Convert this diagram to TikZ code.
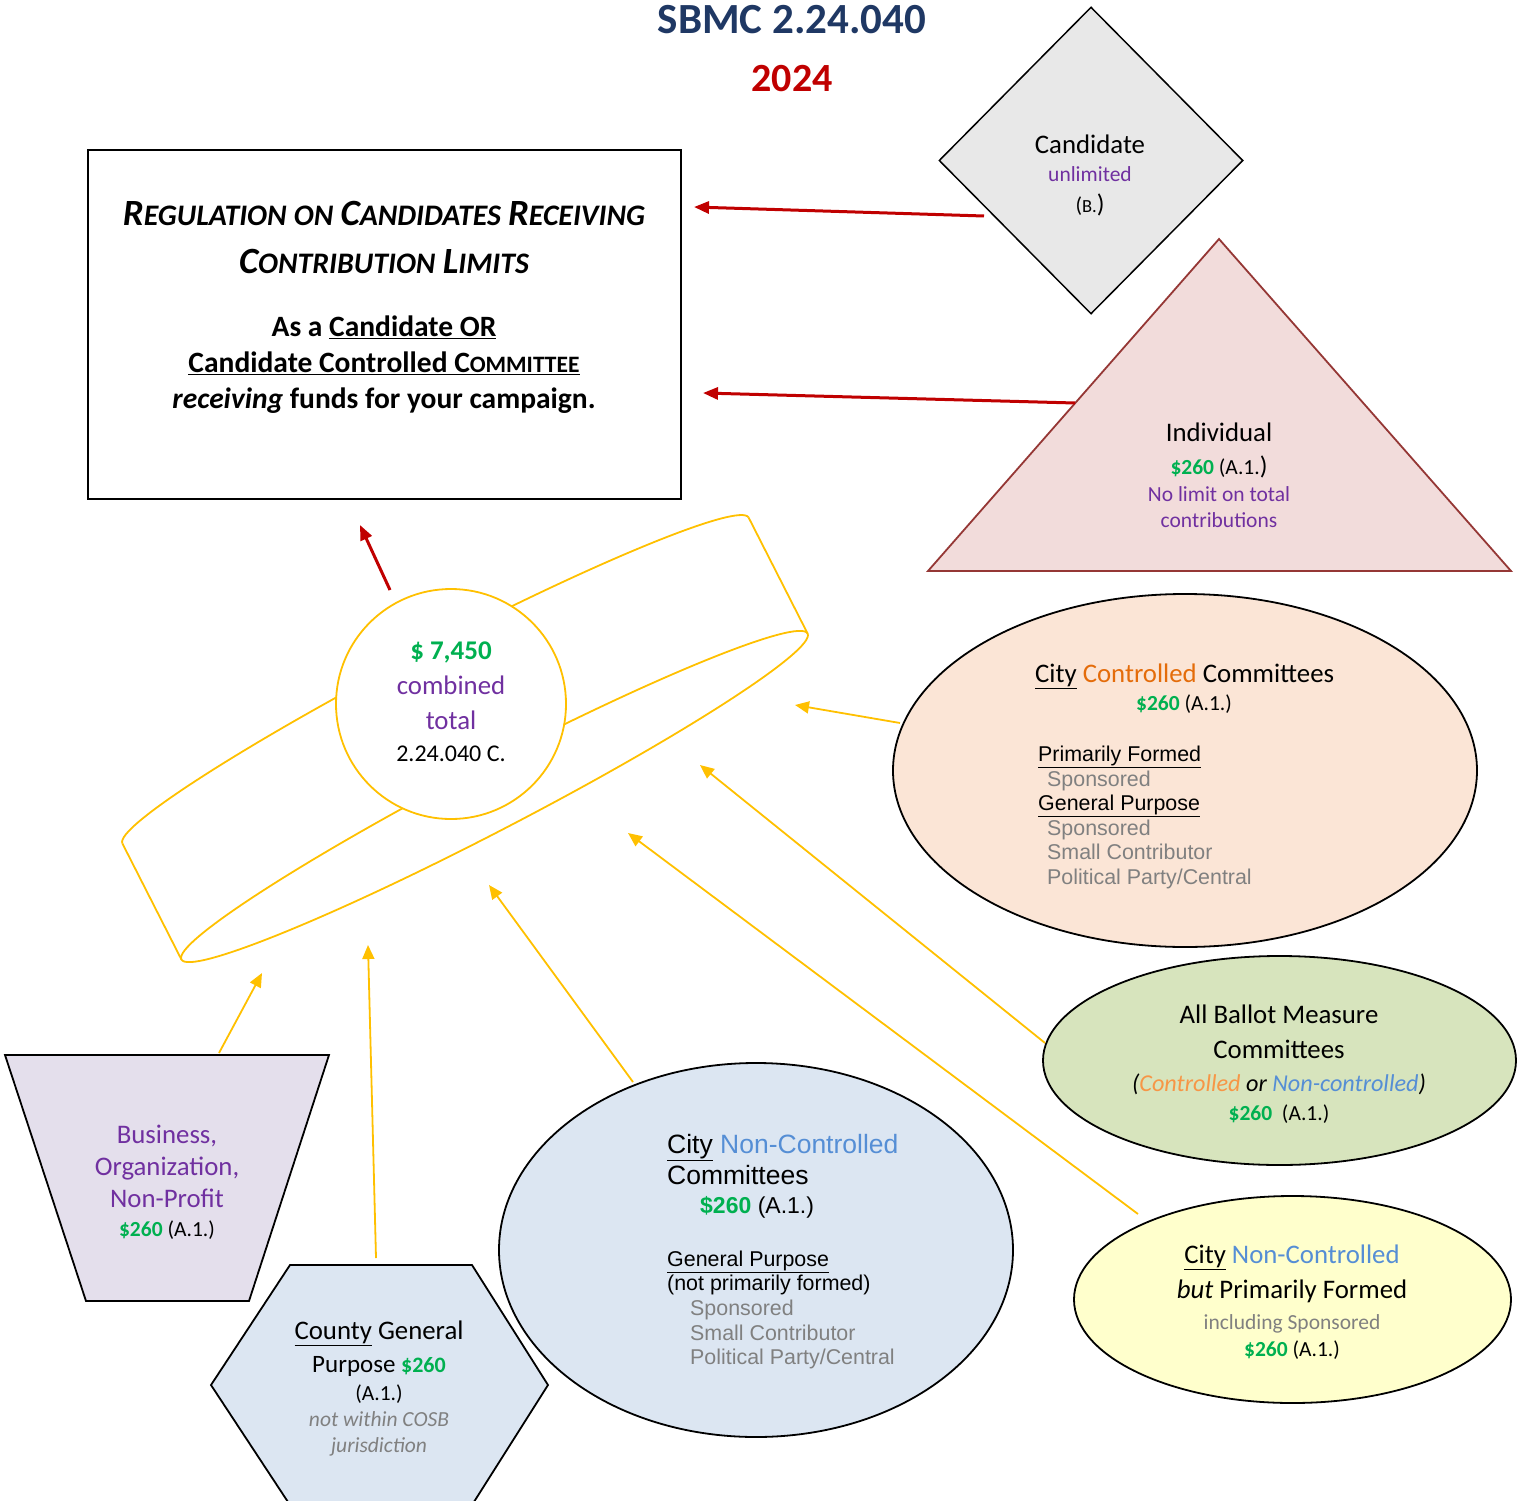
\documentclass[tikz,border=0pt]{standalone}
\usepackage{fontspec}
\setmainfont{Carlito}
\newfontfamily\ari{Liberation Sans}
\usetikzlibrary{arrows.meta,shapes.geometric}
\definecolor{navy}{HTML}{1F3864}
\definecolor{dred}{HTML}{C00000}
\definecolor{mgreen}{HTML}{00B050}
\definecolor{mpurple}{HTML}{7030A0}
\definecolor{gold}{HTML}{FFC000}
\definecolor{orng}{HTML}{E46C0A}
\definecolor{lorng}{HTML}{F79646}
\definecolor{nblue}{HTML}{558ED5}
\definecolor{gtxt}{HTML}{808080}
\definecolor{diafill}{HTML}{E8E8E8}
\definecolor{trifill}{HTML}{F2DCDB}
\definecolor{triline}{HTML}{953735}
\definecolor{ccfill}{HTML}{FBE5D6}
\definecolor{abfill}{HTML}{D7E4BD}
\definecolor{ylfill}{HTML}{FFFFCC}
\definecolor{blfill}{HTML}{DCE6F2}
\definecolor{trapfill}{HTML}{E4DFEC}
\newcommand\fs[1]{\fontsize{#1}{#1}\selectfont}
\newcommand\hsc[2]{{\fs{37}#1}{\fs{29.8}#2}}
\newcommand\grn[1]{\textcolor{mgreen}{\textbf{#1}}}
\begin{document}
\begin{tikzpicture}[x=1pt,y=-1pt,
  txt/.style={inner sep=0pt, anchor=mid, yshift=-6pt},
  ltxt/.style={inner sep=0pt, anchor=mid west, yshift=-6pt},
  shapeline/.style={draw=black, line width=1.8pt},
  goldline/.style={draw=gold, line width=1.8pt},
  goldarrow/.style={draw=gold, line width=1.8pt, -{Triangle[length=14pt,width=12pt]}},
  redarrow/.style={draw=dred, line width=3pt, -{Triangle[length=15pt,width=12pt]}},
  body/.style={font=\fs{26.8}},
  small/.style={font=\fs{21.5}},
  arial/.style={font=\ari\fs{21.4}}]
\useasboundingbox (0,0) rectangle (1526,1501);

% title
\node[txt, font=\bfseries\fs{43}, text=navy] (title) at (792,25) {SBMC 2.24.040};
\node[txt, font=\bfseries\fs{40}, text=dred] (year) at (792,83) {2024};

% regulation box
\node[shapeline, minimum width=593pt, minimum height=349pt, inner sep=0pt] (reg) at (384.5,324.5) {};
\node[txt, font=\bfseries\itshape\fs{32}] (h1) at (384,217) {\hsc{R}{EGULATION} \hsc{}{ON} \hsc{C}{ANDIDATES} \hsc{R}{ECEIVING}};
\node[txt, font=\bfseries\itshape\fs{32}] (h2) at (384,265) {\hsc{C}{ONTRIBUTION} \hsc{L}{IMITS}};
\node[txt, font=\bfseries\fs{29.5}] (b1) at (384,328) {As a \underline{Candidate OR}};
\node[txt, font=\bfseries\fs{29.5}] (b2) at (384,364) {\underline{Candidate Controlled C{\fs{23.5}OMMITTEE}}};
\node[txt, font=\bfseries\fs{29.5}] (b3) at (384,400) {\textit{receiving} funds for your campaign.};

% candidate diamond
\node[diamond, shapeline, line width=1.5pt, fill=diafill, minimum width=304pt, minimum height=307pt, inner sep=0pt] (cand) at (1091,160.5) {};
\node[txt, body] (c1) at (1090,145) {Candidate};
\node[txt, small, text=mpurple] (c2) at (1090,173) {unlimited};
\node[txt, small] (c3) at (1090,204) {({\fs{18.5}B.}{\fs{25.5})}};

% individual triangle
\draw[draw=triline, line width=1.8pt, fill=trifill] (1219,239) -- (1511,571) -- (928,571) -- cycle;
\coordinate (indL) at (1075,403);
\node[txt, body] (i1) at (1219,433) {Individual};
\node[txt, small] (i2) at (1219,466) {\grn{\$260} (A.1.{\fs{25.5})}};
\node[txt, small, text=mpurple] (i3) at (1219,493) {No limit on total};
\node[txt, small, text=mpurple] (i4) at (1219,519) {contributions};

% cylinder (ring)
\begin{scope}[shift={(435.5,680.5)}, rotate=27.5]
  \draw[goldline] (353pt,0pt) arc[start angle=0, end angle=180, x radius=353pt, y radius=32pt];
  \coordinate (fr) at (353pt,0pt);
  \coordinate (fl) at (-353pt,0pt);
\end{scope}
\begin{scope}[shift={(494.5,796.5)}, rotate=27.5]
  \draw[goldline] (0pt,0pt) ellipse[x radius=353pt, y radius=33pt];
  \coordinate (nr) at (353pt,0pt);
  \coordinate (nl) at (-353pt,0pt);
\end{scope}
\draw[goldline] (fr) -- (nr);
\draw[goldline] (fl) -- (nl);
\node[circle, draw=gold, line width=1.8pt, fill=white, minimum size=230pt, inner sep=0pt] (tot) at (451,704) {};
\node[txt, font=\bfseries\fs{27}, text=mgreen] (t1) at (451,651) {\$ 7,450};
\node[txt, font=\fs{26.8}, text=mpurple] (t2) at (451,686) {combined};
\node[txt, font=\fs{26.8}, text=mpurple] (t3) at (451,721) {total};
\node[txt, font=\fs{24}] (t4) at (451,753) {2.24.040 C.};

% city controlled
\node[ellipse, shapeline, fill=ccfill, minimum width=584pt, minimum height=353pt, inner sep=0pt] (cc) at (1185,770.5) {};
\node[ltxt, body] (cc1) at (1035,674) {\underline{City} \textcolor{orng}{Controlled} Committees};
\node[txt, small] (cc2) at (1184,702) {\grn{\$260} (A.1.)};
\node[ltxt, arial] (cc3) at (1038,753) {\underline{Primarily Formed}};
\node[ltxt, arial, text=gtxt] (cc4) at (1047,778) {Sponsored};
\node[ltxt, arial] (cc5) at (1038,802) {\underline{General Purpose}};
\node[ltxt, arial, text=gtxt] (cc6) at (1047,827) {Sponsored};
\node[ltxt, arial, text=gtxt] (cc7) at (1047,851) {Small Contributor};
\node[ltxt, arial, text=gtxt] (cc8) at (1047,876) {Political Party/Central};

% all ballot measure
\node[ellipse, shapeline, fill=abfill, minimum width=473pt, minimum height=209pt, inner sep=0pt] (ab) at (1279.5,1060.5) {};
\node[txt, body] (ab1) at (1279,1015) {All Ballot Measure};
\node[txt, body] (ab2) at (1279,1050) {Committees};
\node[txt, font=\itshape\fs{24.2}] (ab3) at (1279,1083) {(\textcolor{lorng}{Controlled} or \textcolor{nblue}{Non-controlled})};
\node[txt, small] (ab4) at (1279,1112) {\grn{\$260}\ \ (A.1.)};

% city non-controlled but primarily formed
\node[ellipse, shapeline, fill=ylfill, minimum width=437pt, minimum height=207pt, inner sep=0pt] (yl) at (1292.5,1299.5) {};
\node[txt, body] (yl1) at (1292,1255) {\underline{City} \textcolor{nblue}{Non-Controlled}};
\node[txt, body] (yl2) at (1292,1290) {\textit{but} Primarily Formed};
\node[txt, font=\fs{21.5}, text=gtxt] (yl3) at (1292,1321) {including Sponsored};
\node[txt, small] (yl4) at (1292,1348) {\grn{\$260} (A.1.)};

% city non-controlled committees (big blue)
\node[ellipse, shapeline, fill=blfill, minimum width=514pt, minimum height=374pt, inner sep=0pt] (bl) at (756,1250) {};
\node[ltxt, font=\ari\fs{26.5}] (bl1) at (667,1145) {\underline{City} \textcolor{nblue}{Non-Controlled}};
\node[ltxt, font=\ari\fs{26.5}] (bl2) at (667,1176) {Committees};
\node[ltxt, font=\ari\fs{23}] (bl3) at (700,1205) {\textcolor{mgreen}{\bfseries\$260} (A.1.)};
\node[ltxt, arial] (bl4) at (667,1258) {\underline{General Purpose}};
\node[ltxt, arial] (bl5) at (667,1282) {(not primarily formed)};
\node[ltxt, arial, text=gtxt] (bl6) at (690,1307) {Sponsored};
\node[ltxt, arial, text=gtxt] (bl7) at (690,1332) {Small Contributor};
\node[ltxt, arial, text=gtxt] (bl8) at (690,1356) {Political Party/Central};

% business trapezoid
\draw[shapeline, fill=trapfill] (5,1055) -- (329,1055) -- (249,1301) -- (86,1301) -- cycle;
\coordinate (bizT) at (219,1053);
\node[txt, body, text=mpurple] (bz1) at (167,1135) {Business,};
\node[txt, body, text=mpurple] (bz2) at (167,1167) {Organization,};
\node[txt, body, text=mpurple] (bz3) at (167,1199) {Non-Profit};
\node[txt, small] (bz4) at (167,1228) {\grn{\$260} (A.1.)};

% county hexagon
\draw[shapeline, fill=blfill] (290,1265) -- (472,1265) -- (548,1385) -- (472,1505) -- (290,1505) -- (211,1385) -- cycle;
\coordinate (hexT) at (376,1258);
\node[txt, body] (hx1) at (379,1331) {\underline{County} General};
\node[txt, font=\fs{25}] (hx2) at (379,1364) {Purpose {\fs{22}\grn{\$260}}};
\node[txt, small] (hx3) at (379,1392) {(A.1.)};
\node[txt, font=\itshape\fs{21.5}, text=gtxt] (hx4) at (379,1418) {not within COSB};
\node[txt, font=\itshape\fs{21.5}, text=gtxt] (hx5) at (379,1444) {jurisdiction};

% arrow end points
\coordinate (candS) at (984,216);
\coordinate (regR1) at (694,207);
\coordinate (regR2) at (703,393);
\coordinate (totS) at (390,590);
\coordinate (regB) at (360,525);
\coordinate (ccS) at (900,723);
\coordinate (ccE) at (795,705);
\coordinate (abS) at (1045,1043);
\coordinate (abE) at (700,765);
\coordinate (ylS) at (1138,1214);
\coordinate (ylE) at (628,833);
\coordinate (blS) at (633,1082);
\coordinate (blE) at (489,885);
\coordinate (hexE) at (368,945);
\coordinate (bizE) at (262,973);

% red arrows
\draw[redarrow] (candS) -- (regR1);
\draw[redarrow] (indL) -- (regR2);
\draw[redarrow] (totS) -- (regB);

% gold arrows
\draw[goldarrow] (ccS) -- (ccE);
\draw[goldarrow] (abS) -- (abE);
\draw[goldarrow] (ylS) -- (ylE);
\draw[goldarrow] (blS) -- (blE);
\draw[goldarrow] (hexT) -- (hexE);
\draw[goldarrow] (bizT) -- (bizE);
\end{tikzpicture}
\end{document}
